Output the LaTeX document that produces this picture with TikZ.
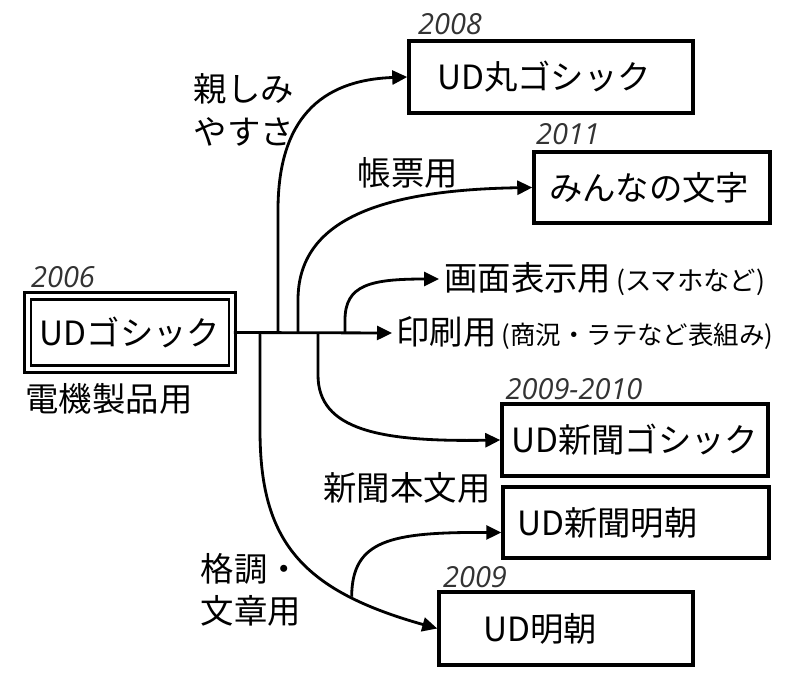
\documentclass[tikz,border=0pt]{standalone}
\usepackage{fontspec}
\setmainfont{Noto Sans CJK JP}
\newfontfamily\yearfont{Open Sans}
\usetikzlibrary{arrows.meta}

\begin{document}
\begin{tikzpicture}[x=0.02cm, y=-0.02cm,
		fontbox/.style={draw, line width=2pt, align=left, inner ysep=0pt, font={\fontsize{19}{24}\selectfont}},
		mainbox/.style={fontbox, double, double distance=0.08cm, line width=1.5pt},
		usage/.style={align=left, font={\fontsize{19}{24}\selectfont}},
		year/.style={font={\yearfont\itshape\fontsize{16.5}{19}\selectfont}, text=black!80},
		flow/.style={line width=1.6pt, -{Triangle[length=0.3cm, width=0.28cm]}}]
		\useasboundingbox (0,0) rectangle (800,679);

		\node[mainbox, minimum width=4.1cm, minimum height=1.46cm] (gothic) at (130,332.5) {UDゴシック};
		\node[year] (y2006) at (63,277) {2006};
		\node[usage] (denki) at (109,399) {電機製品用};

		\node[fontbox, minimum height=1.44cm, inner xsep=0.56cm, text width=4.56cm] (maru) at (551,77) {UD丸ゴシック};
		\node[year] (y2008) at (450,24) {2008};

		\node[fontbox, minimum height=1.42cm, inner xsep=0.3cm, text width=4.12cm] (minna) at (652,187.5) {みんなの文字};
		\node[year] (y2011) at (568,134) {2011};

		\node[usage, anchor=west, inner xsep=0.1cm, inner ysep=0pt] (gamen) at (439,279) {画面表示用\kern0.1cm{\fontsize{15}{17}\selectfont(スマホなど)}};
		\node[usage, anchor=west, inner xsep=0.08cm, inner ysep=0pt] (insatsu) at (392,333) {印刷用\kern0.1cm{\fontsize{14.5}{17}\selectfont(商況・ラテなど表組み)}};

		\node[fontbox, minimum height=1.44cm, inner xsep=0.18cm, text width=4.96cm] (shinG) at (635,440) {UD新聞ゴシック};
		\node[year] (y2009b) at (574,389) {2009-2010};

		\node[fontbox, minimum height=1.42cm, inner xsep=0.28cm, text width=4.76cm] (shinM) at (636,522.5) {UD新聞明朝};

		\node[fontbox, minimum height=1.46cm, inner xsep=0.88cm, text width=3.32cm] (mincho) at (566,628.5) {UD明朝};
		\node[year] (y2009) at (475,577) {2009};

		\node[usage] (shitashimi) at (244,110) {親しみ\\やすさ};
		\node[usage] (chohyo) at (408,173) {帳票用};
		\node[usage] (honbun) at (407,488) {新聞本文用};
		\node[usage] (kakucho) at (251,590) {格調・\\文章用};

		\coordinate (sMincho) at (260,333);
		\coordinate (sMaru) at (278,333);
		\coordinate (sMinna) at (298,333);
		\coordinate (sShinG) at (318,333);
		\coordinate (sGamen) at (345,333);

		\draw[flow] (gothic.east) -- (insatsu.west);
		\draw[flow] (sMaru) -- (278,210) .. controls (278,120) and (320,80) .. (maru.west);
		\draw[flow] (sMinna) -- (298,300) .. controls (298,220) and (380,190) .. (minna.west);
		\draw[flow] (sGamen) -- (345,320) .. controls (345,285) and (370,279) .. (gamen.west);
		\draw[flow] (sShinG) -- (318,375) .. controls (318,430) and (380,442) .. (shinG.west);
		\draw[flow] (sMincho) -- (260,430) .. controls (260,540) and (300,590) .. (mincho.west) coordinate[pos=0.75] (fork);
		\draw[flow] (fork) .. controls (352,540) and (390,532) .. ([yshift=-0.2cm]shinM.west);
	\end{tikzpicture}
\end{document}
